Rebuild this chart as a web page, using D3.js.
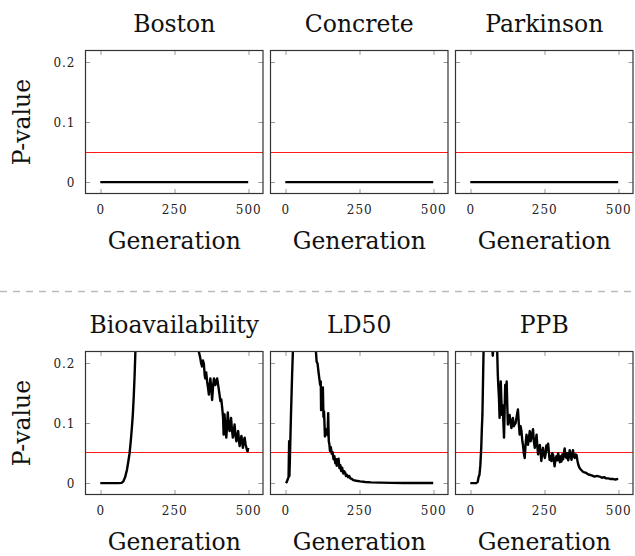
<!DOCTYPE html>
<html lang="en">
<head>
    <meta charset="UTF-8">
    <title>P-value per generation</title>
    <script src="https://cdn.jsdelivr.net/npm/d3@7"></script>
    <style>
        body { margin: 0; background: #fff; }
        #chart { width: 635px; height: 556px; }
    </style>
</head>
<body>
<div id="chart"></div>
<script type="text/javascript">
    // titles, top row then bottom row
    var titles = ['Boston', 'Concrete', 'Parkinson', 'Bioavailability', 'LD50', 'PPB'];
    var xTicks = [0, 250, 500];
    var yTicks = [0, 0.1, 0.2];
    var yTickLabels = ['0', '0.1', '0.2'];
    var threshold = 0.05;

    // [generation, p-value]
    var boston = [[0, 0], [100, 0], [200, 0], [300, 0], [400, 0], [500, 0]];
    var concrete = [[0, 0], [100, 0], [200, 0], [300, 0], [400, 0], [500, 0]];
    var parkinson = [[0, 0], [100, 0], [200, 0], [300, 0], [400, 0], [500, 0]];

    var bioavailability = [[0,0],[20,0],[40,0],[60,0],[72,0.0005],[78,0.003],[84,0.01],[90,0.022],[95,0.037],[99,0.05],
        [103,0.07],[107,0.094],[110,0.115],[113,0.144],[116,0.18],[119,0.225],[125,0.3],[140,0.42],[170,0.55],[220,0.6],
        [270,0.5],[310,0.33],[328,0.245],[333,0.22],[338,0.209],[341,0.2],[344,0.195],[347,0.205],[350,0.2],[353,0.18],
        [355,0.175],[358,0.185],[361,0.17],[364,0.16],[367,0.148],[370,0.165],[372,0.175],[375,0.16],[378,0.139],[381,0.16],
        [384,0.175],[386,0.17],[389,0.164],[392,0.172],[395,0.175],[398,0.165],[400,0.159],[403,0.148],[406,0.137],[409,0.14],
        [412,0.126],[415,0.11],[417,0.081],[420,0.115],[423,0.09],[426,0.076],[429,0.1],[431,0.118],[434,0.095],[437,0.087],
        [440,0.1],[442,0.109],[445,0.09],[448,0.076],[451,0.085],[454,0.098],[457,0.08],[460,0.07],[463,0.08],[466,0.087],
        [469,0.07],[471,0.062],[474,0.07],[477,0.079],[480,0.068],[482,0.059],[485,0.07],[488,0.076],[491,0.065],[494,0.059],
        [496,0.055],[498,0.053],[500,0.059]];

    var ld50 = [[2,0],[5,0.002],[8,0.006],[11,0.01],[13,0.07],[14,0.012],[16,0.05],[19,0.11],[21,0.145],[23,0.18],
        [26,0.225],[30,0.3],[40,0.45],[60,0.55],[80,0.45],[95,0.3],[102,0.23],[106,0.203],[109,0.2],[112,0.187],
        [115,0.175],[118,0.164],[120,0.17],[121,0.122],[123,0.15],[125,0.135],[127,0.16],[129,0.111],[131,0.12],[134,0.078],
        [137,0.09],[140,0.085],[143,0.08],[145,0.117],[147,0.07],[149,0.065],[151,0.054],[154,0.06],[157,0.049],[160,0.052],
        [163,0.04],[166,0.045],[169,0.033],[172,0.04],[174,0.029],[177,0.035],[180,0.041],[183,0.025],[186,0.03],[189,0.02],
        [192,0.026],[196,0.016],[199,0.02],[202,0.018],[205,0.012],[208,0.014],[212,0.01],[216,0.012],[220,0.008],[225,0.007],
        [230,0.005],[240,0.004],[253,0.003],[270,0.002],[290,0.0013],[320,0.0008],[360,0.0005],[400,0.0003],[450,0.0002],[500,0.0001]];

    var ppb = [[0,0],[10,0],[20,0],[25,0.002],[28,0.01],[31,0.014],[34,0.03],[37,0.059],[39,0.09],[41,0.114],
        [43,0.17],[45,0.225],[50,0.32],[60,0.4],[70,0.3],[74,0.23],[76,0.213],[78,0.23],[84,0.3],[89,0.24],
        [91,0.22],[93,0.181],[95,0.16],[97,0.142],[99,0.109],[101,0.14],[103,0.17],[105,0.14],[107,0.114],[110,0.13],
        [112,0.1],[114,0.076],[116,0.12],[118,0.164],[121,0.15],[123,0.17],[125,0.13],[127,0.098],[130,0.11],[133,0.114],
        [136,0.1],[139,0.092],[142,0.105],[144,0.109],[147,0.095],[150,0.098],[153,0.1],[156,0.109],[158,0.115],[161,0.123],
        [164,0.1],[167,0.081],[170,0.095],[173,0.087],[176,0.07],[178,0.064],[181,0.05],[184,0.042],[187,0.065],[190,0.081],
        [193,0.07],[195,0.064],[198,0.075],[201,0.087],[204,0.07],[207,0.076],[210,0.085],[212,0.09],[215,0.07],[218,0.059],
        [221,0.07],[224,0.081],[227,0.06],[229,0.048],[232,0.055],[235,0.064],[238,0.05],[240,0.037],[243,0.05],[246,0.059],
        [249,0.048],[252,0.042],[255,0.05],[257,0.063],[260,0.055],[263,0.066],[266,0.05],[268,0.039],[271,0.045],[274,0.037],
        [277,0.05],[280,0.047],[283,0.035],[285,0.028],[288,0.04],[291,0.045],[294,0.038],[297,0.05],[300,0.042],[303,0.035],
        [306,0.045],[308,0.036],[311,0.048],[314,0.04],[317,0.052],[319,0.058],[322,0.045],[325,0.042],[328,0.05],[331,0.038],
        [334,0.048],[336,0.055],[339,0.045],[342,0.039],[345,0.05],[347,0.055],[350,0.045],[353,0.042],[356,0.048],[359,0.047],
        [362,0.038],[364,0.033],[367,0.028],[370,0.025],[375,0.022],[381,0.019],[386,0.018],[392,0.017],[397,0.015],[403,0.014],
        [410,0.013],[420,0.011],[428,0.012],[437,0.011],[445,0.009],[452,0.01],[459,0.008],[466,0.008],[473,0.007],[482,0.007],
        [490,0.006],[500,0.007]];

    var series = [boston, concrete, parkinson, bioavailability, ld50, ppb];

    var svgw = 635, svgh = 556;
    var pw = 177.5, ph = 143;
    var colLeft = [85.5, 270.5, 455.5];
    var rowTop = [50.5, 351.5];
    var serifFont = '"DejaVu Serif", "Liberation Serif", "Noto Serif", "Times New Roman", Times, serif';

    var svg = d3.select('#chart')
        .append('svg')
        .attr('width', svgw)
        .attr('height', svgh);

    var x_scale = d3.scaleLinear().domain([-50, 550]).range([0, pw]);
    var y_scale = d3.scaleLinear().domain([-0.019, 0.22]).range([ph, 0]);

    var line = d3.line()
        .x(function (d) { return x_scale(d[0]); })
        .y(function (d) { return y_scale(d[1]); });

    // dashed separator between the two rows
    svg.append('line')
        .attr('x1', 0).attr('x2', svgw)
        .attr('y1', 291.5).attr('y2', 291.5)
        .attr('stroke', '#bbb')
        .attr('stroke-width', 1.5)
        .attr('stroke-dasharray', '7,6');

    function bigText(sel) {
        return sel.attr('font-family', serifFont)
            .attr('font-size', 23.5)
            .attr('fill', '#111');
    }

    titles.forEach(function (title, i) {
        var row = Math.floor(i / 3), col = i % 3;
        var g = svg.append('g')
            .attr('transform', 'translate(' + colLeft[col] + ',' + rowTop[row] + ')');

        g.append('clipPath').attr('id', 'clip' + i)
            .append('rect').attr('width', pw).attr('height', ph);

        // ticks inside the frame, all four sides
        var tl = 4.5;
        xTicks.forEach(function (t) {
            var xx = Math.round(x_scale(t)) + 0.5;
            g.append('line').attr('x1', xx).attr('x2', xx)
                .attr('y1', 0).attr('y2', tl).attr('stroke', '#999');
            g.append('line').attr('x1', xx).attr('x2', xx)
                .attr('y1', ph).attr('y2', ph - tl).attr('stroke', '#999');
        });
        yTicks.forEach(function (t) {
            var yy = Math.round(y_scale(t));
            g.append('line').attr('x1', 0).attr('x2', tl)
                .attr('y1', yy).attr('y2', yy).attr('stroke', '#999');
            g.append('line').attr('x1', pw).attr('x2', pw - tl)
                .attr('y1', yy).attr('y2', yy).attr('stroke', '#999');
        });

        // 0.05 threshold, snapped to an even pixel row so it stays red
        var absY = rowTop[row] + y_scale(threshold);
        var pixRow = 2 * Math.round((absY - 0.5) / 2);
        var ty = pixRow + 0.5 - rowTop[row];
        g.append('line')
            .attr('x1', 0).attr('x2', pw)
            .attr('y1', ty).attr('y2', ty)
            .attr('stroke', '#ff1a1a')
            .attr('stroke-width', 1);

        g.append('path')
            .datum(series[i])
            .attr('clip-path', 'url(#clip' + i + ')')
            .attr('d', line)
            .attr('fill', 'none')
            .attr('stroke', '#000')
            .attr('stroke-width', 2.4)
            .attr('stroke-linejoin', 'round');

        g.append('rect')
            .attr('width', pw).attr('height', ph)
            .attr('fill', 'none')
            .attr('stroke', '#333')
            .attr('stroke-width', 1.2);

        // x tick labels
        g.selectAll('.xl')
            .data(xTicks)
            .enter()
            .append('text')
            .attr('font-family', serifFont)
            .attr('font-size', 12)
            .attr('letter-spacing', 1)
            .attr('fill', '#222')
            .attr('x', function (d) { return x_scale(d) + 0.5; })
            .attr('y', ph + 20)
            .attr('text-anchor', 'middle')
            .text(function (d) { return d; });

        if (col === 0) {
            g.selectAll('.yl')
                .data(yTicks)
                .enter()
                .append('text')
                .attr('font-family', serifFont)
                .attr('font-size', 12)
                .attr('letter-spacing', 1)
                .attr('fill', '#222')
                .attr('x', -10)
                .attr('y', function (d) { return y_scale(d) + 4.5; })
                .attr('text-anchor', 'end')
                .text(function (d, k) { return yTickLabels[k]; });

            g.append('text')
                .call(bigText)
                .attr('transform', 'translate(' + (-56) + ',' + (ph / 2) + ') rotate(-90)')
                .attr('text-anchor', 'middle')
                .text('P-value');
        }

        g.append('text')
            .call(bigText)
            .attr('x', pw / 2)
            .attr('y', -19)
            .attr('text-anchor', 'middle')
            .text(title);

        g.append('text')
            .call(bigText)
            .attr('x', pw / 2)
            .attr('y', ph + 55)
            .attr('text-anchor', 'middle')
            .text('Generation');
    });
</script>
</body>
</html>
